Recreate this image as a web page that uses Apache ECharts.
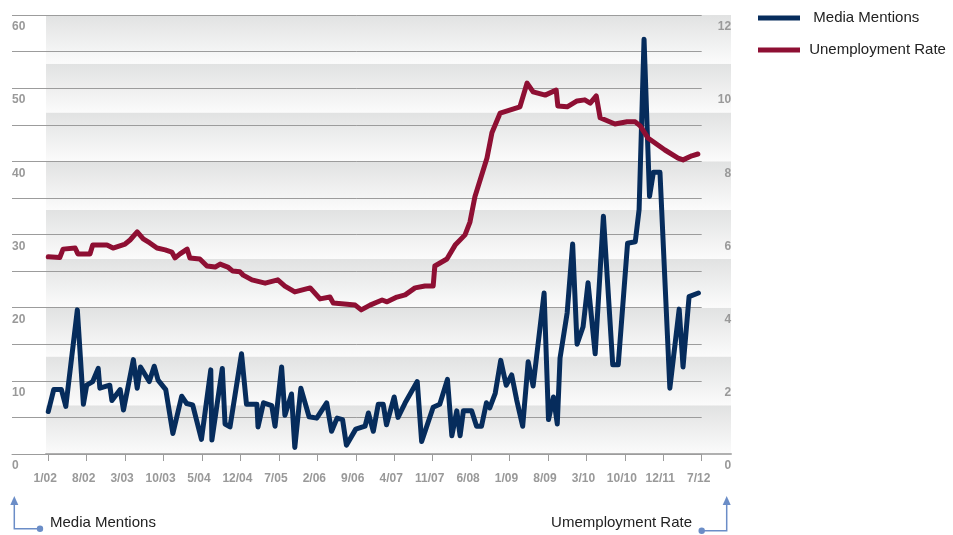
<!DOCTYPE html>
<html>
<head>
<meta charset="utf-8">
<script src="https://cdn.jsdelivr.net/npm/echarts@6/dist/echarts.min.js"></script>
<style>
  html, body { margin: 0; padding: 0; background: #fff; }
  #chart { width: 953px; height: 535px; }
</style>
</head>
<body>
<div id="chart"></div>
<script>
// x positions are months since 1/02
const tickLabels = ['1/02', '8/02', '3/03', '10/03', '5/04', '12/04', '7/05', '2/06', '9/06',
  '4/07', '11/07', '6/08', '1/09', '8/09', '3/10', '10/10', '12/11', '7/12']
const tickMonths = [0, 7, 14, 21, 28, 35, 42, 49, 56, 63, 70, 77, 84, 91, 98, 105, 112, 119]

const mediaMonth = [0, 1.0, 2.4, 3.2, 5.3, 6.4, 7.0, 8.1, 9.1, 9.4, 11.2, 11.6, 13.1, 13.7, 15.5,
  16.2, 16.8, 18.4, 19.3, 20.0, 21.4, 22.7, 24.3, 25.2, 26.3, 27.9, 29.6, 29.8, 31.7, 32.2,
  33.1, 35.2, 36.1, 38.0, 38.2, 39.2, 40.7, 41.3, 42.5, 43.1, 44.3, 44.9, 46.0, 47.5, 48.9,
  50.7, 51.6, 52.6, 53.6, 54.3, 56.0, 57.7, 58.3, 59.2, 60.1, 61.0, 61.6, 63.0, 63.7, 65.0,
  67.2, 68.0, 70.1, 71.3, 72.7, 73.5, 74.4, 75.0, 75.6, 77.1, 78.0, 78.9, 79.8, 80.4, 81.4,
  82.4, 83.4, 84.4, 85.3, 86.4, 87.4, 88.3, 90.3, 91.1, 92.0, 92.7, 93.2, 94.5, 95.5, 96.3,
  97.4, 98.3, 99.6, 101.1, 102.8, 103.8, 105.5, 106.9, 107.6, 108.5, 109.5, 110.2, 111.4,
  113.2, 114.9, 115.6, 116.7, 118.4]
const mediaCount = [5.8, 8.8, 8.8, 6.5, 19.7, 6.8, 9.4, 9.9, 11.7, 9.0, 9.4, 7.3, 8.8, 6.0, 12.9,
  9.0, 11.9, 9.9, 12.0, 10.1, 8.8, 2.8, 7.9, 6.9, 6.7, 2.0, 11.5, 1.9, 11.7, 4.1,
  3.7, 13.7, 6.8, 6.8, 3.7, 7.0, 6.6, 3.8, 11.9, 5.3, 8.2, 0.9, 9.0, 5.1, 4.9,
  7.0, 3.1, 4.9, 4.7, 1.2, 3.4, 3.8, 5.6, 3.1, 6.8, 6.8, 4.0, 7.8, 5.0, 7.0,
  9.9, 1.7, 6.4, 6.8, 10.2, 2.5, 5.9, 2.5, 5.9, 5.9, 3.8, 3.8, 7.0, 6.3, 8.3,
  12.8, 9.4, 10.8, 7.4, 3.8, 12.6, 9.3, 22.0, 4.7, 7.8, 4.1, 13.1, 19.3, 28.7, 15.0,
  17.4, 23.4, 13.7, 32.5, 12.2, 12.2, 28.8, 29.0, 33.4, 56.7, 35.2, 38.5, 38.5,
  9.0, 19.8, 11.9, 21.5, 22.0]

const unempMonth = [0, 2.1, 2.7, 4.9, 5.4, 7.6, 8.1, 10.7, 11.8, 14.0, 14.9, 16.2, 17.3, 18.5,
  19.8, 21.3, 22.5, 23.1, 24.0, 25.3, 25.8, 27.6, 28.9, 30.4, 31.3, 32.7, 33.6, 34.9, 35.5,
  37.1, 39.5, 41.8, 43.1, 44.9, 47.7, 49.5, 51.3, 51.9, 55.9, 57.0, 58.6, 60.8, 61.7, 63.5,
  65.0, 66.8, 68.6, 70.1, 70.4, 72.6, 74.1, 75.9, 76.8, 77.7, 79.9, 80.8, 82.3, 85.9, 87.2,
  88.3, 90.5, 92.5, 92.8, 94.5, 96.3, 97.7, 98.7, 99.8, 100.5, 103.2, 105.4, 106.9, 107.8,
  109.2, 110.5, 112.3, 114.7, 115.6, 117.2, 118.3]
const unempRate = [5.39, 5.37, 5.60, 5.63, 5.47, 5.47, 5.71, 5.71, 5.63, 5.74, 5.85, 6.07, 5.88, 5.77,
  5.63, 5.58, 5.52, 5.36, 5.47, 5.60, 5.36, 5.33, 5.14, 5.11, 5.19, 5.11, 5.00, 4.98, 4.89,
  4.76, 4.67, 4.76, 4.59, 4.43, 4.54, 4.24, 4.29, 4.13, 4.07, 3.94, 4.07, 4.21, 4.16, 4.29,
  4.35, 4.54, 4.59, 4.59, 5.14, 5.33, 5.71, 5.99, 6.34, 7.03, 8.09, 8.78, 9.32, 9.49, 10.14,
  9.90, 9.81, 9.95, 9.51, 9.49, 9.65, 9.68, 9.59, 9.79, 9.19, 9.02, 9.08, 9.08, 8.97,
  8.64, 8.50, 8.31, 8.09, 8.04, 8.15, 8.20]

const FONT = "'Liberation Sans', Arial, sans-serif"
const GRID_GRAY = '#9c9c9c'
const NOTE_BLUE = '#6b8dc7'

const chart = echarts.init(document.getElementById('chart'))

const axisLabelStyle = {
  color: '#999',
  fontWeight: 'bold',
  fontSize: 12,
  fontFamily: FONT,
}

const option = {
  animation: false,
  backgroundColor: '#fff',
  grid: [
    { left: 12, right: 251.3, top: 15, bottom: 81 },
    // gradient bands behind the plot
    { left: 46, right: 222, top: 15, bottom: 81 },
  ],
  legend: {
    orient: 'vertical',
    left: 753,
    top: 3,
    icon: 'rect',
    itemWidth: 42,
    itemHeight: 5,
    itemGap: 12,
    data: ['Media Mentions', 'Unemployment Rate'],
    formatter: name => (name === 'Media Mentions' ? '  ' : ' ') + name,
    textStyle: { fontSize: 15, lineHeight: 20, color: '#222', fontFamily: FONT },
  },
  xAxis: [
    {
      gridIndex: 0,
      type: 'value',
      min: -6.6,
      max: 119,
      z: 1,
      axisLine: { lineStyle: { color: GRID_GRAY, width: 1 } },
      axisTick: { customValues: tickMonths, length: 7, lineStyle: { color: GRID_GRAY } },
      axisLabel: {
        ...axisLabelStyle,
        customValues: tickMonths,
        formatter: v => tickLabels[tickMonths.indexOf(Math.round(v))] || '',
        margin: 19,
        padding: [0, 6, 0, 0],
      },
      splitLine: { show: false },
    },
    {
      gridIndex: 1,
      type: 'value',
      position: 'top',
      min: 0,
      max: 1,
      z: 0,
      axisLine: { show: true, lineStyle: { color: '#b0b0b0', width: 2 } },
      axisTick: { show: false },
      axisLabel: { show: false },
      splitLine: { show: false },
    },
  ],
  yAxis: [
    {
      gridIndex: 0,
      type: 'value',
      position: 'left',
      min: 0,
      max: 60,
      interval: 5,
      z: 1,
      axisLine: { show: false },
      axisTick: { show: false },
      axisLabel: {
        ...axisLabelStyle,
        formatter: v => (v % 10 === 0 ? String(v) : ''),
        align: 'left',
        verticalAlign: 'top',
        padding: [6, 0, 0, 0],
        margin: 0,
      },
      splitLine: { lineStyle: { color: GRID_GRAY, width: 1 } },
    },
    {
      gridIndex: 0,
      type: 'value',
      position: 'right',
      min: 0,
      max: 12,
      interval: 1,
      z: 1,
      axisLine: { show: false },
      axisTick: { show: false },
      axisLabel: {
        ...axisLabelStyle,
        formatter: v => (v % 2 === 0 ? String(v) : ''),
        align: 'right',
        verticalAlign: 'top',
        padding: [6, 0, 0, 0],
        margin: 29.5,
      },
      splitLine: { show: false },
    },
    {
      gridIndex: 1,
      type: 'value',
      min: 0,
      max: 9,
      interval: 1,
      z: 0,
      axisLine: { show: false },
      axisTick: { show: false },
      axisLabel: { show: false },
      splitLine: { show: false },
      splitArea: {
        show: true,
        areaStyle: {
          color: [{
            type: 'linear', x: 0, y: 0, x2: 0, y2: 1,
            colorStops: [
              { offset: 0, color: '#e1e2e2' },
              { offset: 1, color: '#fbfbfb' },
            ],
          }],
        },
      },
    },
  ],
  series: [
    {
      name: 'Media Mentions',
      type: 'line',
      xAxisIndex: 0,
      yAxisIndex: 0,
      symbol: 'none',
      z: 3,
      itemStyle: { color: '#062c5c' },
      lineStyle: { width: 5, color: '#062c5c', cap: 'round', join: 'round' },
      data: mediaMonth.map((m, i) => [m, mediaCount[i]]),
    },
    {
      name: 'Unemployment Rate',
      type: 'line',
      xAxisIndex: 0,
      yAxisIndex: 1,
      symbol: 'none',
      z: 4,
      itemStyle: { color: '#8e0f33' },
      lineStyle: { width: 5, color: '#8e0f33', cap: 'round', join: 'round' },
      data: unempMonth.map((m, i) => [m, unempRate[i]]),
    },
  ],
  graphic: [
    // bottom-left note: Media Mentions -> left axis
    { type: 'polyline', shape: { points: [[14.3, 503], [14.3, 528.7], [40, 528.7]] },
      style: { stroke: NOTE_BLUE, lineWidth: 1.5, fill: null } },
    { type: 'polygon', shape: { points: [[14.3, 496], [10.3, 505], [18.3, 505]] },
      style: { fill: NOTE_BLUE } },
    { type: 'circle', shape: { cx: 40, cy: 528.7, r: 3.2 }, style: { fill: NOTE_BLUE } },
    { type: 'text', left: 50, top: 515,
      style: { text: 'Media Mentions', fontSize: 15, fontFamily: FONT, fill: '#222' } },
    // bottom-right note: Unemployment -> right axis
    { type: 'polyline', shape: { points: [[701.7, 530.7], [726.7, 530.7], [726.7, 503]] },
      style: { stroke: NOTE_BLUE, lineWidth: 1.5, fill: null } },
    { type: 'polygon', shape: { points: [[726.7, 496], [722.7, 505], [730.7, 505]] },
      style: { fill: NOTE_BLUE } },
    { type: 'circle', shape: { cx: 701.7, cy: 530.7, r: 3.2 }, style: { fill: NOTE_BLUE } },
    { type: 'text', right: 953 - 692, top: 515,
      style: { text: 'Umemployment Rate', fontSize: 15, fontFamily: FONT, fill: '#222' } },
  ],
}

chart.setOption(option)
window.addEventListener('resize', () => {
  chart.resize()
})
</script>
</body>
</html>
